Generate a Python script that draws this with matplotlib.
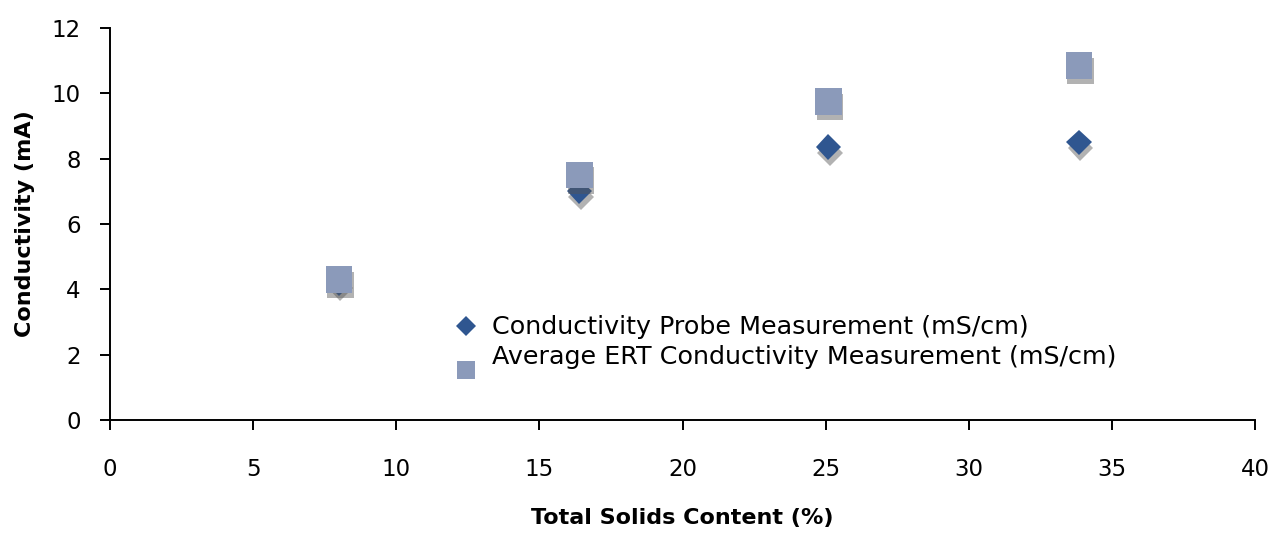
import numpy as np
import matplotlib as mpl
mpl.use('Agg')
import matplotlib.pyplot as plt
import matplotlib.patheffects as pe
from matplotlib.legend_handler import HandlerLine2D

# values
solids = [8.0, 16.4, 25.1, 33.85]
probe = [4.2, 7.0, 8.35, 8.5]
ert = [4.3, 7.5, 9.75, 10.85]

probe_label = 'Conductivity Probe Measurement (mS/cm)'
ert_label = 'Average ERT Conductivity Measurement (mS/cm)'


class ShiftedHandler(HandlerLine2D):
    '''Legend handler that moves the marker down by dy points.'''
    def __init__(self, dy=0, **kw):
        super().__init__(**kw)
        self.dy = dy

    def create_artists(self, legend, orig_handle, xdescent, ydescent,
                       width, height, fontsize, trans):
        arts = super().create_artists(legend, orig_handle, xdescent, ydescent,
                                      width, height, fontsize, trans)
        for a in arts:
            a.set_ydata(np.asarray(a.get_ydata()) - self.dy)
            a.set_path_effects([])
        return arts


shadow = [pe.SimplePatchShadow(offset=(1, -4), shadow_rgbFace='#555555',
                               alpha=0.45), pe.Normal()]

fig = plt.figure(figsize=(12.78, 5.35), dpi=100)
ax = fig.add_axes([110 / 1278, 115 / 535, 1145 / 1278, 392 / 535])

p1, = ax.plot(solids, probe, linestyle='none', marker='D', markersize=13,
              color='#2f5690', markeredgewidth=0, label=probe_label,
              path_effects=shadow)
p2, = ax.plot(solids, ert, linestyle='none', marker='s', markersize=19,
              color='#8b9aba', markeredgewidth=0, label=ert_label,
              path_effects=shadow)

ax.set_xlim(0, 40)
ax.set_ylim(0, 12)
ax.set_xticks(range(0, 41, 5))
ax.set_yticks(range(0, 13, 2))
for side in ('top', 'right'):
    ax.spines[side].set_visible(False)
for side in ('left', 'bottom'):
    ax.spines[side].set_linewidth(1.4)
ax.tick_params(direction='out', length=7, width=1.4, labelsize=16.5)
ax.tick_params(axis='x', pad=20)
ax.tick_params(axis='y', pad=14)

ax.set_xlabel('Total Solids Content (%)', fontsize=16, fontweight='bold',
              labelpad=20)
ax.set_ylabel('Conductivity (mA)', fontsize=16, fontweight='bold',
              labelpad=12)

leg = ax.legend(handles=[p1, p2], loc='lower left',
                bbox_to_anchor=(0.28, 0.073), frameon=False,
                fontsize=18.3, handletextpad=0.5, labelspacing=0.2,
                handlelength=1.0,
                handler_map={p1: ShiftedHandler(dy=0, numpoints=1),
                             p2: ShiftedHandler(dy=11, numpoints=1)})
leg.legend_handles[0].set_markersize(10)
leg.legend_handles[1].set_markersize(13)

fig.savefig('out.png', dpi=100)
